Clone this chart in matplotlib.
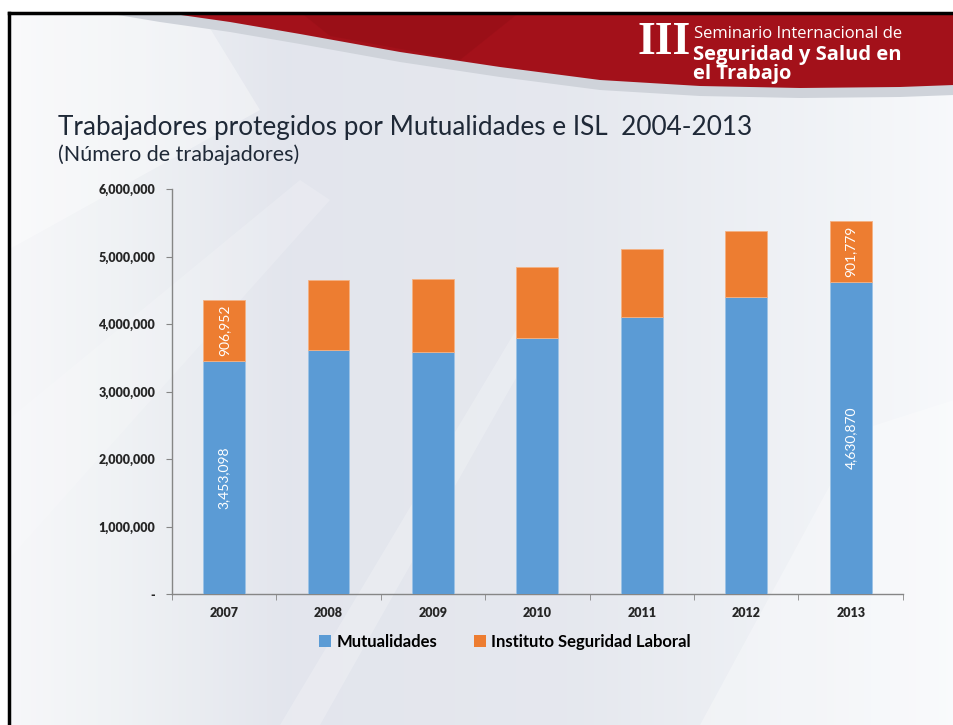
import numpy as np
import matplotlib.pyplot as plt
from matplotlib.patches import Patch, Polygon

# -----------------------------
# Data
# -----------------------------
years = ["2007", "2008", "2009", "2010", "2011", "2012", "2013"]
mutualidades = [3453098, 3619000, 3594000, 3804000, 4104000, 4404000, 4630870]
isl = [906952, 1037000, 1073000, 1049000, 1012000, 974000, 901779]
labelled_years = ["2007", "2013"]

yticks = [0, 1000000, 2000000, 3000000, 4000000, 5000000, 6000000]
ytick_labels = ["-", "1,000,000", "2,000,000", "3,000,000", "4,000,000", "5,000,000", "6,000,000"]

blue = "#5b9bd5"
orange = "#ed7d31"
W, H = 954, 725

fig = plt.figure(figsize=(W / 100, H / 100), dpi=100)

# -----------------------------
# Slide background
# -----------------------------
bg = fig.add_axes([0, 0, 1, 1], zorder=-10)
bg.set_xlim(0, W)
bg.set_ylim(H, 0)
bg.axis("off")

xs = np.linspace(0, 1, 400)
gx = [0.0, 0.12, 0.3, 0.6, 0.85, 1.0]
r = np.interp(xs, gx, [0.97, 0.94, 0.89, 0.90, 0.94, 0.97])
g = np.interp(xs, gx, [0.97, 0.95, 0.90, 0.91, 0.95, 0.975])
b = np.interp(xs, gx, [0.98, 0.96, 0.93, 0.935, 0.965, 0.985])
grad = np.stack([r, g, b], axis=-1)[None, :, :]
bg.imshow(grad, extent=[0, W, H, 0], aspect="auto", zorder=0)

# white margin outside slide frame
bg.add_patch(Polygon([[0, 0], [W, 0], [W, 12], [0, 12]], closed=True, fc="white", ec="none", zorder=1))
bg.add_patch(Polygon([[0, 0], [8, 0], [8, H], [0, H]], closed=True, fc="white", ec="none", zorder=1))

# soft diagonal light streaks
bg.add_patch(Polygon([[8, 420], [8, 560], [330, 200], [300, 180]], closed=True, fc="white", ec="none", alpha=0.18, zorder=1))
bg.add_patch(Polygon([[280, H], [320, H], [560, 300], [540, 290]], closed=True, fc="white", ec="none", alpha=0.22, zorder=1))
bg.add_patch(Polygon([[700, H], [W, H], [W, 400], [860, 430]], closed=True, fc="white", ec="none", alpha=0.3, zorder=1))
bg.add_patch(Polygon([[8, 12], [200, 12], [260, 110], [8, 250]], closed=True, fc="white", ec="none", alpha=0.35, zorder=1))

# red banner with grey swoosh
cx = np.array([160, 230, 300, 400, 500, 600, 700, 800, 900, 954])
cy = np.array([12, 22, 34, 52, 67, 80, 86, 88, 87, 85])
grey_pts = [[100, 12]] + [[x, y + 10] for x, y in zip(cx, cy)] + [[W, 12]]
bg.add_patch(Polygon(grey_pts, closed=True, fc="#cfd3da", ec="none", zorder=2))
red_pts = [[x, y] for x, y in zip(cx, cy)] + [[W, 12]]
bg.add_patch(Polygon(red_pts, closed=True, fc="#a3111a", ec="none", zorder=3))
bg.add_patch(Polygon([[300, 12], [520, 12], [460, 60], [330, 36]], closed=True, fc="#8c0d14", ec="none", alpha=0.35, zorder=3))

# slide frame
bg.plot([9, W], [13, 13], color="black", lw=2.5, zorder=4)
bg.plot([9, 9], [13, H], color="black", lw=2.5, zorder=4)

# logo
bg.text(691, 43, "III", family=["DejaVu Serif Condensed", "Liberation Serif"], weight="bold",
        fontsize=33, color="white", ha="right", va="center", zorder=5)
bg.text(694, 34, "Seminario Internacional de", family="Open Sans", fontsize=12,
        color="white", ha="left", va="center", zorder=5)
bg.text(693, 45, "Seguridad y Salud en\nel Trabajo", family="Open Sans", weight="bold", fontsize=14.5,
        color="white", ha="left", va="top", linespacing=0.95, zorder=5)

# titles
bg.text(58, 127, "Trabajadores protegidos por Mutualidades e ISL  2004-2013", family="Lato",
        fontsize=18.8, color="#1f2937", ha="left", va="center", zorder=5)
bg.text(58, 155, "(Número de trabajadores)", family="Lato", fontsize=15.5,
        color="#1f2937", ha="left", va="center", zorder=5)

# -----------------------------
# Chart
# -----------------------------
ax = fig.add_axes([0.180, 0.1803, 0.7665, 0.5586])
ax.set_facecolor("none")

x = np.arange(len(years))
ax.bar(x, mutualidades, width=0.4, color=blue, edgecolor="#9cc3e6", linewidth=0.6, zorder=3)
ax.bar(x, isl, width=0.4, bottom=mutualidades, color=orange, edgecolor="#f4b183", linewidth=0.6, zorder=3)

for i, yr in enumerate(years):
    if yr in labelled_years:
        ax.text(i, mutualidades[i] / 2, f"{mutualidades[i]:,}", rotation=90, ha="center", va="center",
                color="white", fontsize=10, family="Lato", zorder=4)
        ax.text(i, mutualidades[i] + isl[i] / 2, f"{isl[i]:,}", rotation=90, ha="center", va="center",
                color="white", fontsize=10, family="Lato", zorder=4)

ax.set_xlim(-0.5, len(years) - 0.5)
ax.set_ylim(0, 6000000)
ax.set_yticks(yticks)
ax.set_yticklabels(ytick_labels)
ax.set_xticks(x)
ax.set_xticklabels(years)
ax.set_xticks(np.arange(len(years) + 1) - 0.5, minor=True)
ax.tick_params(axis="x", which="major", length=0, pad=9)
ax.tick_params(axis="x", which="minor", length=4, color="#868686", direction="out")
ax.tick_params(axis="y", length=4, color="#868686", direction="out", pad=8)
for lab in ax.get_xticklabels() + ax.get_yticklabels():
    lab.set_family("Lato")
    lab.set_fontweight("heavy")
    lab.set_fontsize(9)
    lab.set_color("#262626")

for s in ["top", "right"]:
    ax.spines[s].set_visible(False)
for s in ["left", "bottom"]:
    ax.spines[s].set_color("#868686")
    ax.spines[s].set_linewidth(1)

handles = [Patch(facecolor=blue, label="Mutualidades"),
           Patch(facecolor=orange, label="Instituto Seguridad Laboral")]
fig.legend(handles=handles, loc="center", bbox_to_anchor=(505 / W, 1 - 642 / H), ncol=2, frameon=False,
           handlelength=0.75, handleheight=0.75, handletextpad=0.3, columnspacing=2.2,
           prop={"family": "Lato", "weight": "bold", "size": 12})

fig.savefig("out.png", dpi=100)
